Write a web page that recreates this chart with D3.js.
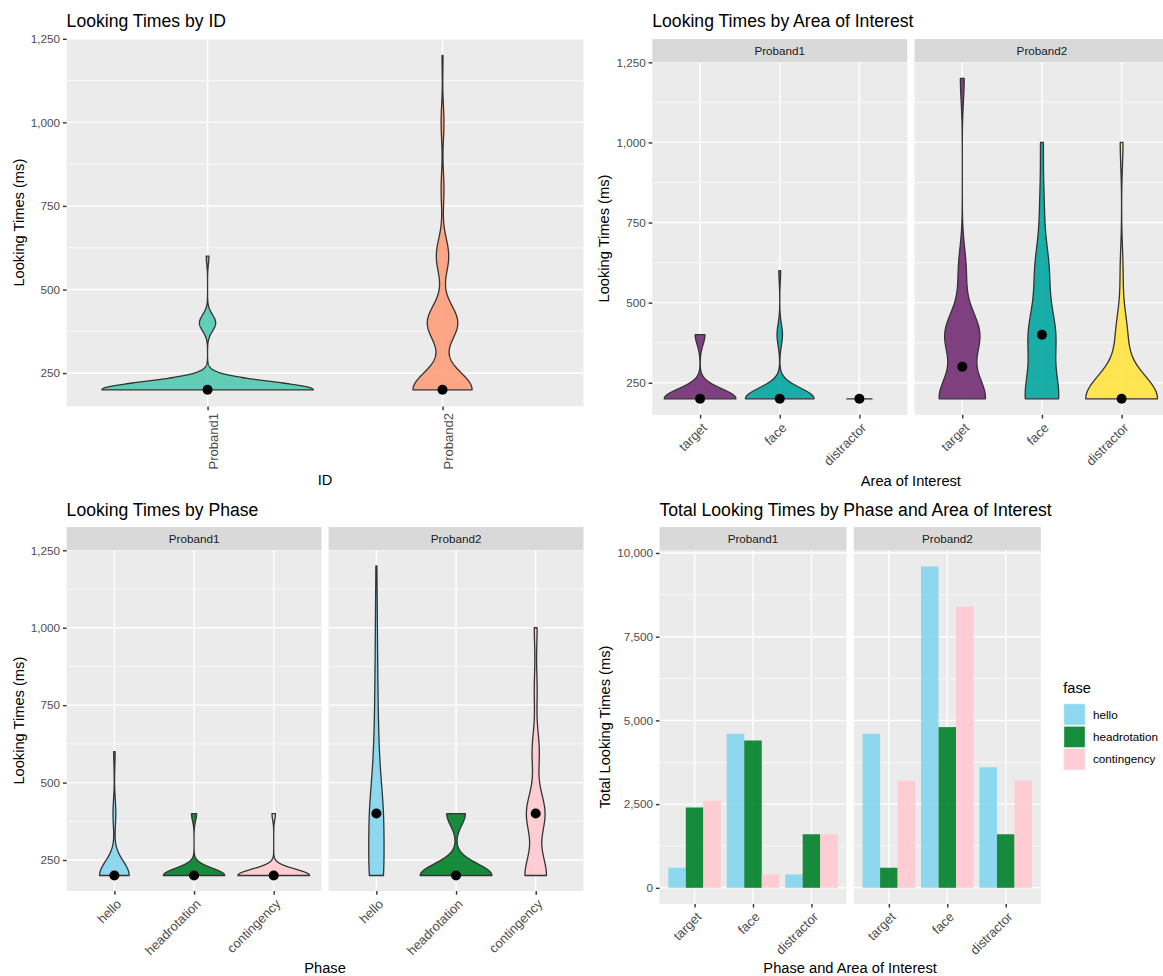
<!DOCTYPE html>
<html>
<head>
<meta charset="utf-8">
<title>Looking Times</title>
<script src="https://cdn.jsdelivr.net/npm/d3@7/dist/d3.min.js"></script>
<style>
  html, body { margin: 0; padding: 0; background: #ffffff; }
  svg { display: block; }
</style>
</head>
<body>
<svg id="chart" width="1163" height="976"></svg>
<script>
// Looking-time levels recorded by the eye tracker (ms)
const levels = [200, 400, 600, 800, 1000, 1200];

const probands = ["Proband1", "Proband2"];
const aois = ["target", "face", "distractor"];
const phases = ["hello", "headrotation", "contingency"];

// Number of looks at each level, per proband
const looksP1 = [78, 6, 1, 0, 0, 0];
const looksP2 = [62, 32, 13, 3, 3, 1];

// Number of looks at each level, per area of interest (target, face, distractor)
const looksByAoiP1 = [
  [22, 3, 0, 0, 0, 0],
  [38, 3, 1, 0, 0, 0],
  [18, 0, 0, 0, 0, 0]
];
const looksByAoiP2 = [
  [12, 9, 2, 0, 0, 1],
  [24, 19, 10, 3, 2, 0],
  [26, 4, 1, 0, 1, 0]
];

// Number of looks at each level, per phase (hello, headrotation, contingency)
const looksByPhaseP1 = [
  [21, 2, 1, 0, 0, 0],
  [36, 3, 0, 0, 0, 0],
  [21, 1, 0, 0, 0, 0]
];
const looksByPhaseP2 = [
  [16, 15, 5, 3, 2, 1],
  [23, 6, 0, 0, 0, 0],
  [15, 13, 5, 2, 2, 0]
];

// Total looking time (ms) per area of interest (target, face, distractor)
const totalHelloP1 = [600, 4600, 400];
const totalHeadrotationP1 = [2400, 4400, 1600];
const totalContingencyP1 = [2600, 400, 1600];
const totalHelloP2 = [4600, 9600, 3600];
const totalHeadrotationP2 = [600, 4800, 1600];
const totalContingencyP2 = [3200, 8400, 3200];

const timeTicks = [250, 500, 750, 1000, 1250];
const totalTicks = [0, 2500, 5000, 7500, 10000];

const probandColors = ["#53CAB0", "#FF9F7A"];
const aoiColors = ["#722D72", "#02A6A0", "#FFE33F"];
const phaseColors = ["#83D6EE", "#008129", "#FFCAD0"];

// ---------------------------------------------------------------------------
const FONT = "'Liberation Sans', Arial, Helvetica, sans-serif";
const TICK = 3.67, PAD = 2.93, FILL_OPACITY = 0.9;
const svg = d3.select("#chart").attr("font-family", FONT);
const fmt = d3.format(",");

function observations(counts) {
  const obs = [];
  counts.forEach((c, i) => { for (let k = 0; k < c; k++) obs.push(levels[i]); });
  return obs.sort(d3.ascending);
}

// Silverman's rule of thumb (as R's bw.nrd0)
function bandwidth(obs) {
  const sd = d3.deviation(obs) || 0;
  const iqr = d3.quantileSorted(obs, 0.75) - d3.quantileSorted(obs, 0.25);
  let lo = Math.min(sd, iqr / 1.34);
  if (!lo) lo = sd || Math.abs(obs[0]) || 1;
  return 0.9 * lo * Math.pow(obs.length, -0.2);
}

// Gaussian kernel density, trimmed to the range of the data
function violinStats(counts) {
  const obs = observations(counts);
  const n = obs.length, bw = bandwidth(obs);
  const lo = obs[0], hi = obs[n - 1];
  const k = 1 / (n * bw * Math.sqrt(2 * Math.PI));
  const profile = d3.range(512).map(i => {
    const v = lo + (hi - lo) * i / 511;
    let d = 0;
    counts.forEach((c, j) => {
      if (c) { const z = (v - levels[j]) / bw; d += c * Math.exp(-0.5 * z * z); }
    });
    return { v, d: d * k };
  });
  return { profile, median: d3.median(obs), max: d3.max(profile, p => p.d), hi };
}

function padDomain(lo, hi) {
  const s = hi - lo;
  return [lo - 0.05 * s, hi + 0.05 * s];
}

function minorBreaks(major, domain) {
  const step = major[1] - major[0];
  const out = [];
  for (let b = major[0] - step; b <= major[major.length - 1]; b += step) {
    const m = b + step / 2;
    if (m >= domain[0] && m <= domain[1]) out.push(m);
  }
  return out;
}

function drawPanel(o) {
  const g = svg.append("g");
  const [xl, xr] = o.x.range();
  const [yb, yt] = o.y.range();
  g.append("rect").attr("x", xl).attr("y", yt).attr("width", xr - xl).attr("height", yb - yt)
    .attr("fill", "#EBEBEB");
  g.selectAll(null).data(minorBreaks(o.major, o.y.domain())).join("line")
    .attr("x1", xl).attr("x2", xr).attr("y1", d => o.y(d)).attr("y2", d => o.y(d))
    .attr("stroke", "#ffffff").attr("stroke-width", 0.71);
  g.selectAll(null).data(o.major.filter(d => d >= o.y.domain()[0] && d <= o.y.domain()[1])).join("line")
    .attr("x1", xl).attr("x2", xr).attr("y1", d => o.y(d)).attr("y2", d => o.y(d))
    .attr("stroke", "#ffffff").attr("stroke-width", 1.42);
  g.selectAll(null).data(o.x.domain()).join("line")
    .attr("x1", d => o.x(d)).attr("x2", d => o.x(d)).attr("y1", yt).attr("y2", yb)
    .attr("stroke", "#ffffff").attr("stroke-width", 1.42);

  if (o.strip) {
    const sh = 23.2;
    g.append("rect").attr("x", xl).attr("y", yt - sh).attr("width", xr - xl).attr("height", sh)
      .attr("fill", "#D9D9D9");
    g.append("text").attr("x", (xl + xr) / 2).attr("y", yt - sh / 2).attr("dy", "0.35em")
      .attr("text-anchor", "middle").attr("font-size", 11.7).attr("fill", "#1A1A1A").text(o.strip);
  }

  // x axis
  const ax = g.append("g").attr("transform", `translate(0,${yb})`)
    .call(d3.axisBottom(o.x).tickSize(TICK).tickPadding(PAD));
  ax.attr("font-family", FONT).attr("font-size", null);
  ax.select(".domain").remove();
  ax.selectAll(".tick line").attr("stroke", "#333333").attr("stroke-width", 1.42);
  ax.selectAll(".tick text")
    .attr("x", 0).attr("y", 0).attr("dy", "0.78em")
    .attr("transform", `translate(0,${TICK + PAD}) rotate(${-o.angle})`)
    .attr("text-anchor", "end").attr("fill", "#4D4D4D").attr("font-size", 13);

  let labelW = 0;
  if (o.yAxis) {
    const ay = g.append("g").attr("transform", `translate(${xl},0)`)
      .call(d3.axisLeft(o.y).tickValues(o.major).tickSize(TICK).tickPadding(PAD).tickFormat(fmt));
    ay.attr("font-family", FONT).attr("font-size", null);
    ay.select(".domain").remove();
    ay.selectAll(".tick line").attr("stroke", "#333333").attr("stroke-width", 1.42);
    ay.selectAll(".tick text").attr("fill", "#4D4D4D").attr("font-size", 11.7);
    ay.selectAll(".tick text").each(function () { labelW = Math.max(labelW, this.getComputedTextLength()); });
  }
  g.labelW = labelW;
  return g;
}

function drawViolins(g, x, y, cats, stats, colors) {
  const panelMax = d3.max(stats, s => s.max);
  const half = d3.scaleLinear().domain([0, panelMax]).range([0, 0.45 * x.step()]);
  stats.forEach((s, i) => {
    const cx = x(cats[i]);
    const area = d3.area().y(p => y(p.v)).x0(p => cx - half(p.d)).x1(p => cx + half(p.d));
    g.append("path").attr("d", area(s.profile))
      .attr("fill", colors[i]).attr("fill-opacity", FILL_OPACITY)
      .attr("stroke", "#333333").attr("stroke-width", 1.3).attr("stroke-linejoin", "round");
  });
  stats.forEach((s, i) => {
    g.append("circle").attr("cx", x(cats[i])).attr("cy", y(s.median)).attr("r", 5).attr("fill", "#000000");
  });
}

function title(x, y, txt) {
  svg.append("text").attr("x", x).attr("y", y).attr("font-size", 17.6).attr("fill", "#000").text(txt);
}
function xTitle(x, y, txt) {
  svg.append("text").attr("x", x).attr("y", y).attr("text-anchor", "middle")
    .attr("font-size", 14.67).attr("fill", "#000").text(txt);
}
function yTitle(panelLeft, labelW, yTop, yBottom, txt) {
  const bx = panelLeft - TICK - PAD - labelW - 3.67 - 3.4;
  const cy = (yTop + yBottom) / 2;
  svg.append("text").attr("transform", `translate(${bx},${cy}) rotate(-90)`)
    .attr("text-anchor", "middle").attr("font-size", 14.67).attr("fill", "#000").text(txt);
}

// ---------------------------------------------------------------------------
// 1. Looking Times by ID
{
  const stats = [looksP1, looksP2].map(violinStats);
  const x = d3.scalePoint().domain(probands).range([66.6, 583.5]).padding(0.6);
  const y = d3.scaleLinear().domain(padDomain(d3.min(levels), d3.max(stats, s => s.hi))).range([406.5, 38.8]);
  const g = drawPanel({ x, y, major: timeTicks, yAxis: true, angle: 90 });
  drawViolins(g, x, y, probands, stats, probandColors);
  title(66.6, 26.5, "Looking Times by ID");
  xTitle(325, 485, "ID");
  yTitle(66.6, g.labelW, 38.8, 406.5, "Looking Times (ms)");
}

// 2. Looking Times by Area of Interest
{
  const groups = [looksByAoiP1, looksByAoiP2];
  const lefts = [652.3, 914.5], w = 254.9;
  const hi = d3.max(groups.flat(), c => d3.max(levels.filter((l, i) => c[i] > 0)));
  const y = d3.scaleLinear().domain(padDomain(d3.min(levels), hi)).range([414.8, 62.3]);
  let lw = 0;
  groups.forEach((grp, pi) => {
    const x = d3.scalePoint().domain(aois).range([lefts[pi], lefts[pi] + w]).padding(0.6);
    const g = drawPanel({ x, y, major: timeTicks, yAxis: pi === 0, angle: 45, strip: probands[pi] });
    if (pi === 0) lw = g.labelW;
    drawViolins(g, x, y, aois, grp.map(violinStats), aoiColors);
  });
  title(652.3, 26.5, "Looking Times by Area of Interest");
  xTitle((lefts[0] + lefts[1] + w) / 2, 485.5, "Area of Interest");
  yTitle(lefts[0], lw, 62.3, 414.8, "Looking Times (ms)");
}

// 3. Looking Times by Phase
{
  const groups = [looksByPhaseP1, looksByPhaseP2];
  const lefts = [66.6, 328.6], w = 254.9;
  const hi = d3.max(groups.flat(), c => d3.max(levels.filter((l, i) => c[i] > 0)));
  const y = d3.scaleLinear().domain(padDomain(d3.min(levels), hi)).range([891, 550.3]);
  let lw = 0;
  groups.forEach((grp, pi) => {
    const x = d3.scalePoint().domain(phases).range([lefts[pi], lefts[pi] + w]).padding(0.6);
    const g = drawPanel({ x, y, major: timeTicks, yAxis: pi === 0, angle: 45, strip: probands[pi] });
    if (pi === 0) lw = g.labelW;
    drawViolins(g, x, y, phases, grp.map(violinStats), phaseColors);
  });
  title(66.6, 515.5, "Looking Times by Phase");
  xTitle((lefts[0] + lefts[1] + w) / 2, 973.3, "Phase");
  yTitle(lefts[0], lw, 550.3, 891, "Looking Times (ms)");
}

// 4. Total Looking Times by Phase and Area of Interest
{
  const totals = [
    [totalHelloP1, totalHeadrotationP1, totalContingencyP1],
    [totalHelloP2, totalHeadrotationP2, totalContingencyP2]
  ];
  const lefts = [659.5, 853.8], w = 187;
  const maxTotal = d3.max(totals.flat(2));
  const y = d3.scaleLinear().domain(padDomain(0, maxTotal)).range([903.9, 550.3]);
  let lw = 0;
  totals.forEach((byPhase, pi) => {
    const x = d3.scalePoint().domain(aois).range([lefts[pi], lefts[pi] + w]).padding(0.6);
    const g = drawPanel({ x, y, major: totalTicks, yAxis: pi === 0, angle: 45, strip: probands[pi] });
    if (pi === 0) lw = g.labelW;
    const dodge = d3.scaleBand().domain(phases).range([-0.45 * x.step(), 0.45 * x.step()]);
    phases.forEach((ph, k) => {
      g.selectAll(null).data(byPhase[k]).join("rect")
        .attr("x", (d, i) => x(aois[i]) + dodge(ph))
        .attr("width", dodge.bandwidth())
        .attr("y", d => y(d))
        .attr("height", d => y(0) - y(d))
        .attr("fill", phaseColors[k]).attr("fill-opacity", FILL_OPACITY);
    });
  });
  title(659.5, 515.5, "Total Looking Times by Phase and Area of Interest");
  xTitle((lefts[0] + lefts[1] + w) / 2, 973.3, "Phase and Area of Interest");
  yTitle(lefts[0], lw, 550.3, 903.9, "Total Looking Times (ms)");

  // legend
  const lg = svg.append("g").attr("transform", "translate(1063.3,0)");
  lg.append("text").attr("x", 0).attr("y", 693.3).attr("font-size", 14.67).attr("fill", "#000").text("fase");
  const key = 22.4;
  phases.forEach((ph, k) => {
    const ky = 703.3 + k * key;
    lg.append("rect").attr("x", 0).attr("y", ky).attr("width", key).attr("height", key).attr("fill", "#F2F2F2");
    lg.append("rect").attr("x", 0.9).attr("y", ky + 0.9).attr("width", key - 1.8).attr("height", key - 1.8)
      .attr("fill", phaseColors[k]).attr("fill-opacity", FILL_OPACITY);
    lg.append("text").attr("x", key + 7.3).attr("y", ky + key / 2).attr("dy", "0.35em")
      .attr("font-size", 11.7).attr("fill", "#000").text(ph);
  });
}
</script>
</body>
</html>
